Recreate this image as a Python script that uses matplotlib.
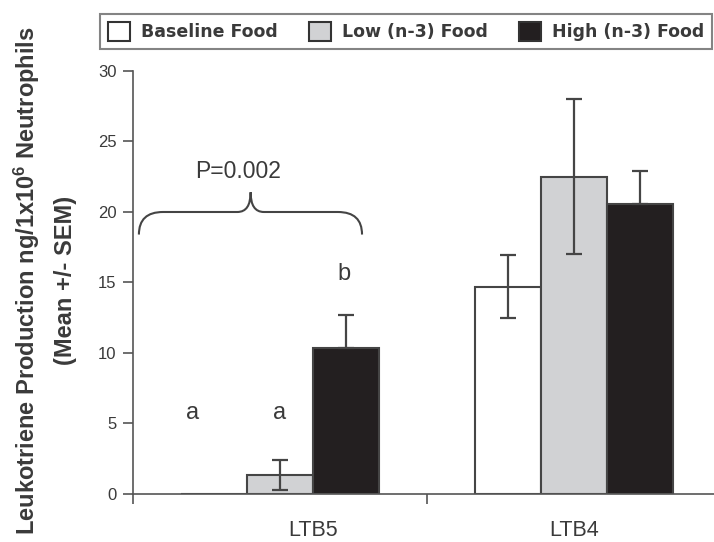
import numpy as np
import matplotlib
matplotlib.use("Agg")
import matplotlib.pyplot as plt
from matplotlib.path import Path
from matplotlib.patches import PathPatch, Patch

# data
groups = ["LTB5", "LTB4"]
diets = ["Baseline Food", "Low (n-3) Food", "High (n-3) Food"]
baseline_mean = [0.0, 14.7]
baseline_sem = [0.0, 2.25]
low_mean = [1.35, 22.5]
low_sem = [1.05, 5.5]
high_mean = [10.35, 20.55]
high_sem = [2.36, 2.35]

letters = ["a", "a", "b"]
letter_x = [-0.296, -0.003, 0.218]
letter_y = [5.75, 5.75, 15.6]
p_text = "P=0.002"

means = [baseline_mean, low_mean, high_mean]
sems = [baseline_sem, low_sem, high_sem]
colors = ["white", "#d1d2d4", "#231f20"]
edge = "#454545"
txt = "#3a3a3a"

plt.rcParams["font.family"] = ["Liberation Sans", "DejaVu Sans"]
plt.rcParams["mathtext.fontset"] = "custom"
plt.rcParams["mathtext.rm"] = "Liberation Sans:bold"
plt.rcParams["mathtext.default"] = "rm"

fig = plt.figure(figsize=(7.14, 5.42), dpi=100)
ax = fig.add_axes([0.1863, 0.0886, 0.8235, 0.7804])

x = np.arange(len(groups))
w = 0.2245
for i, (m, s, c) in enumerate(zip(means, sems, colors)):
    pos = x + (i - 1) * w
    ax.bar(pos, m, width=w, color=c, edgecolor=edge, linewidth=1.5, zorder=2)
    for p, mv, sv in zip(pos, m, s):
        if sv > 0:
            # lower half disappears into the dark bars
            lo = 0 if c == colors[-1] else sv
            ax.errorbar(p, mv, yerr=[[lo], [sv]], fmt="none", ecolor=edge, elinewidth=1.6,
                        capsize=6, capthick=1.6, zorder=3)

ax.set_xlim(-0.5, 1.5)
ax.set_ylim(0, 30)
ax.set_yticks(np.arange(0, 31, 5))
ax.tick_params(axis="y", direction="out", length=7, width=1.2, color="#555555",
               labelsize=12, labelcolor=txt, pad=5)
ax.set_xticks([-0.5, 0.5, 1.5], minor=True)
ax.set_xticks([0.112, 1.0])
ax.set_xticklabels(groups)
ax.tick_params(axis="x", which="major", length=0, labelsize=15.5, labelcolor=txt, pad=19)
ax.tick_params(axis="x", which="minor", direction="out", length=7, width=1.2, color="#555555")
for side in ["top", "right"]:
    ax.spines[side].set_visible(False)
for side in ["left", "bottom"]:
    ax.spines[side].set_color("#555555")
    ax.spines[side].set_linewidth(1.2)

# significance letters
for t, lx, ly in zip(letters, letter_x, letter_y):
    ax.text(lx, ly, t, ha="center", va="center", fontsize=17, color=txt)

# brace over LTB5
x0, x1, xm = -0.48, 0.279, -0.10
yh, ye, yt = 20.0, 18.4, 21.4
rx, tw = 0.082, 0.045
verts = [(x0, ye), (x0, yh), (x0 + rx, yh), (xm - tw, yh), (xm, yh), (xm, yt),
         (xm, yh), (xm + tw, yh), (x1 - rx, yh), (x1, yh), (x1, ye)]
codes = [Path.MOVETO, Path.CURVE3, Path.CURVE3, Path.LINETO, Path.CURVE3, Path.CURVE3,
         Path.CURVE3, Path.CURVE3, Path.LINETO, Path.CURVE3, Path.CURVE3]
ax.add_patch(PathPatch(Path(verts, codes), fill=False, edgecolor="#444444", linewidth=1.5))
ax.text(-0.143, 22.9, p_text, ha="center", va="center", fontsize=16.5, color=txt)

# y label, two lines
fig.text(0.038, 0.482, r"Leukotriene Production ng/1x10$^{6}$ Neutrophils", rotation=90,
         ha="center", va="center", fontsize=17, fontweight="bold", color=txt)
fig.text(0.092, 0.483, "(Mean +/- SEM)", rotation=90,
         ha="center", va="center", fontsize=17, fontweight="bold", color=txt)

handles = [Patch(facecolor=c, edgecolor="#333333", linewidth=1.5) for c in colors]
leg = fig.legend(handles, diets, loc="lower left", ncol=3, mode="expand",
                 bbox_to_anchor=(0.14, 0.9096, 0.857, 0.068), fancybox=False,
                 handlelength=1.3, handleheight=1.3, handletextpad=0.6,
                 borderpad=0.45, borderaxespad=0,
                 prop={"family": "DejaVu Sans", "weight": "bold", "size": 12.5})
leg.get_frame().set_edgecolor("#666666")
leg.get_frame().set_linewidth(1.5)
for t in leg.get_texts():
    t.set_color(txt)

fig.savefig("out.png", dpi=100)
